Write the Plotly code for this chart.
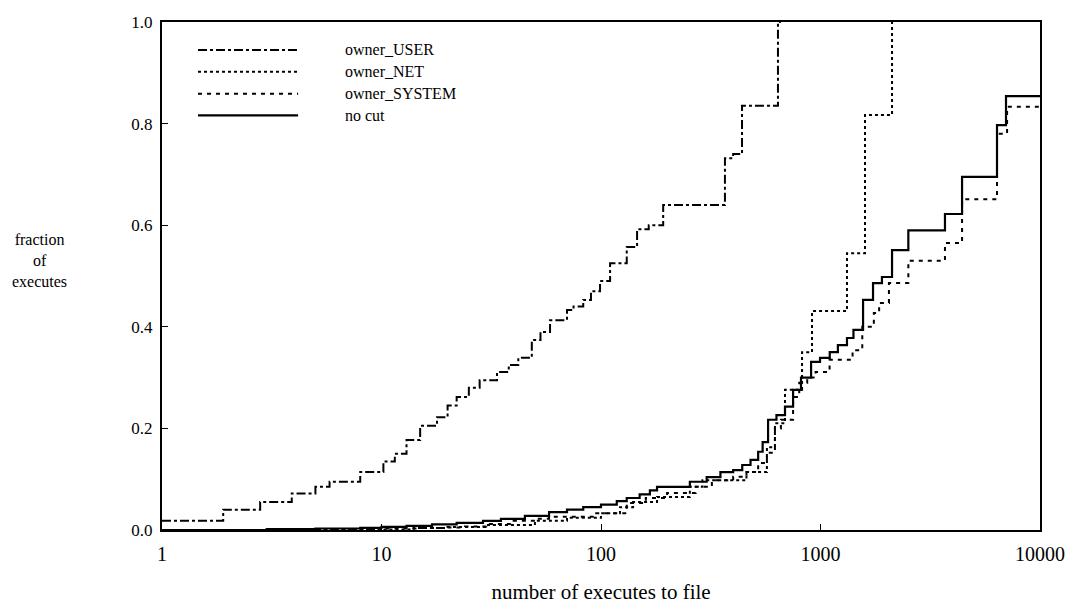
import plotly.graph_objects as go

# ---- data ----
user_x = [1, 1.9, 2.8, 3.9, 5.0, 5.8, 8.0, 10.2, 11.5, 13, 15, 17.9, 20, 22, 25, 28,
          33.6, 38, 42, 48.4, 53, 58.6, 70, 75, 83, 90, 99, 110, 131, 146, 165, 192,
          367, 400, 439, 640, 660]
user_y = [0.018, 0.040, 0.055, 0.072, 0.085, 0.095, 0.114, 0.135, 0.150, 0.177, 0.205,
          0.222, 0.245, 0.262, 0.280, 0.295, 0.311, 0.325, 0.339, 0.374, 0.390, 0.413,
          0.433, 0.440, 0.453, 0.470, 0.490, 0.525, 0.557, 0.592, 0.600, 0.640, 0.732,
          0.740, 0.835, 1.0, 1.0]

net_x = [1, 10, 14, 20, 30, 50, 70, 100, 122, 140, 180, 254, 290, 460, 570, 620, 689,
         824, 915, 1320, 1595, 2118, 2200]
net_y = [0.0, 0.001, 0.004, 0.006, 0.010, 0.018, 0.024, 0.033, 0.045, 0.055, 0.065,
         0.085, 0.098, 0.114, 0.163, 0.210, 0.276, 0.350, 0.431, 0.545, 0.817, 1.0, 1.0]

sys_x = [1, 5, 10, 15, 20, 24, 30, 40, 50, 58, 93, 131, 160, 200, 270, 320, 400, 460,
         520, 570, 620, 660, 750, 800, 870, 950, 1100, 1400, 1550, 1750, 1850, 2050,
         2513, 3690, 4415, 6370, 7080, 10000]
sys_y = [0.0, 0.001, 0.003, 0.004, 0.005, 0.007, 0.012, 0.018, 0.022, 0.026, 0.033,
         0.053, 0.063, 0.073, 0.085, 0.098, 0.105, 0.114, 0.132, 0.152, 0.200, 0.217,
         0.262, 0.290, 0.300, 0.311, 0.335, 0.354, 0.400, 0.427, 0.447, 0.486, 0.530,
         0.565, 0.651, 0.780, 0.833, 0.840]

nocut_x = [1, 3, 5, 8, 10, 13, 17, 22, 29, 35, 45, 58, 70, 83, 100, 118, 131, 150, 167,
           180, 254, 303, 350, 400, 440, 480, 520, 545, 577, 630, 689, 750, 815, 906,
           995, 1102, 1200, 1320, 1413, 1563, 1735, 1905, 2118, 2513, 3690, 4415, 6370,
           7000, 10000]
nocut_y = [0.0, 0.002, 0.003, 0.004, 0.006, 0.008, 0.011, 0.014, 0.018, 0.022, 0.028,
           0.035, 0.040, 0.045, 0.050, 0.057, 0.063, 0.070, 0.078, 0.085, 0.095, 0.104,
           0.114, 0.118, 0.128, 0.138, 0.154, 0.173, 0.217, 0.226, 0.243, 0.276, 0.300,
           0.331, 0.339, 0.350, 0.364, 0.378, 0.394, 0.453, 0.486, 0.498, 0.551, 0.590,
           0.622, 0.695, 0.797, 0.854, 0.854]

x_tickvals = [1, 10, 100, 1000, 10000]
x_ticktext = ["1", "10", "100", "1000", "10000"]
y_tickvals = [0.0, 0.2, 0.4, 0.6, 0.8, 1.0]

series = [
    ("owner_USER", user_x, user_y, "dashdot", 2),
    ("owner_NET", net_x, net_y, "dot", 2),
    ("owner_SYSTEM", sys_x, sys_y, "4px,5px", 2),
    ("no cut", nocut_x, nocut_y, "solid", 2.2),
]

FONT = "Liberation Serif, Times New Roman, serif"

fig = go.Figure()
for name, xs, ys, dash, w in series:
    fig.add_trace(go.Scatter(x=xs, y=ys, mode="lines", name=name, line_shape="hv",
                             line=dict(color="black", width=w, dash=dash),
                             showlegend=False))

# manual legend (long line samples like the reference)
leg_top = 0.945
leg_step = 0.043
for i, (name, xs, ys, dash, w) in enumerate(series):
    yy = leg_top - i * leg_step
    fig.add_shape(type="line", xref="paper", yref="paper", x0=0.041, x1=0.155,
                  y0=yy, y1=yy, line=dict(color="black", width=w, dash=dash))
    fig.add_annotation(xref="paper", yref="paper", x=0.206, y=yy, text=name,
                       showarrow=False, xanchor="left", yanchor="middle",
                       font=dict(family=FONT, size=16, color="black"))

fig.add_annotation(xref="paper", yref="paper", x=-0.139, y=0.53,
                   text="fraction<br>of<br>executes", showarrow=False,
                   xanchor="center", yanchor="middle", align="center",
                   font=dict(family=FONT, size=16, color="black"))

fig.update_xaxes(type="log", range=[0, 4], tickvals=x_tickvals, ticktext=x_ticktext,
                 ticks="inside", ticklen=6, tickcolor="black", showgrid=False,
                 zeroline=False, showline=True, linecolor="black", linewidth=2,
                 mirror=True, tickfont=dict(family=FONT, size=20, color="black"),
                 ticklabelstandoff=5, automargin=False,
                 title=dict(text="number of executes to file",
                            font=dict(family=FONT, size=21, color="black"),
                            standoff=20))
fig.update_yaxes(range=[0, 1], tickvals=y_tickvals, tickformat=".1f",
                 ticks="inside", ticklen=6, tickcolor="black", showgrid=False,
                 zeroline=False, showline=True, linecolor="black", linewidth=2,
                 mirror=True, tickfont=dict(family=FONT, size=17, color="black"),
                 ticklabelstandoff=4, automargin=False)

fig.update_layout(width=1072, height=608, paper_bgcolor="white", plot_bgcolor="white",
                  margin=dict(l=162, r=32, t=22, b=78))

fig.write_html("out.html")
